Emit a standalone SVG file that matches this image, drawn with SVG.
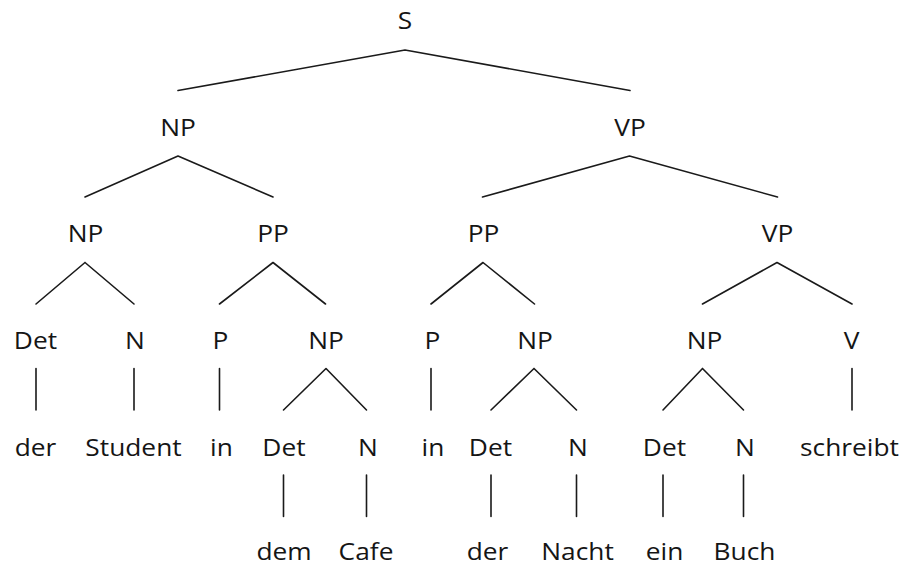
<svg xmlns="http://www.w3.org/2000/svg" width="907" height="565" viewBox="0 0 907 565">
<style>
text{font-family:"Open Sans","Noto Sans",sans-serif;font-size:23.5px;fill:#151515;text-anchor:middle}
.e{stroke:#1a1a1a;stroke-width:1.6;fill:none;stroke-linecap:round}
</style>
<rect width="907" height="565" fill="#fff"/>
<g id="connectors" class="e">
<path d="M405,50 L178,90.5 M405,50 L630,90.5"/>
<path d="M178,156 L85,197 M178,156 L273,197"/>
<path d="M629.5,156 L482.5,197 M629.5,156 L777.5,197"/>
<path d="M85,262.5 L36,304 M85,262.5 L134,304"/>
<path d="M273,262.5 L219.5,304 M273,262.5 L325.5,304"/>
<path d="M483,262.5 L431,304 M483,262.5 L534.5,304"/>
<path d="M777,262.5 L702.5,304 M777,262.5 L852,304"/>
<path d="M36,368.5 V410 M134,368.5 V410 M219.5,368.5 V410 M431,368.5 V410 M852,368.5 V410"/>
<path d="M326,368.5 L283.5,410 M326,368.5 L366.5,410"/>
<path d="M534,368.5 L491,410 M534,368.5 L576.5,410"/>
<path d="M702.5,368.5 L663,410 M702.5,368.5 L743.5,410"/>
<path d="M283.5,475 V516.5 M366.5,475 V516.5 M491,475 V516.5 M576.5,475 V516.5 M663,475 V516.5 M743.5,475 V516.5"/>
</g>
<g id="n-S"><text transform="translate(405,29) scale(1.12,1)">S</text></g>
<g id="n-NP1"><text transform="translate(178,136) scale(1.12,1)">NP</text></g>
<g id="n-VP1"><text transform="translate(630,136) scale(1.12,1)">VP</text></g>
<g id="n-NP2"><text transform="translate(85.5,242) scale(1.12,1)">NP</text></g>
<g id="n-PP2a"><text transform="translate(273,242) scale(1.12,1)">PP</text></g>
<g id="n-PP2b"><text transform="translate(483.5,242) scale(1.12,1)">PP</text></g>
<g id="n-VP2"><text transform="translate(777.5,242) scale(1.12,1)">VP</text></g>
<g id="n-Det3a"><text transform="translate(35.5,349) scale(1.12,1)">Det</text></g>
<g id="n-N3a"><text transform="translate(135,349) scale(1.12,1)">N</text></g>
<g id="n-P3a"><text transform="translate(220.5,349) scale(1.12,1)">P</text></g>
<g id="n-NP3a"><text transform="translate(326,349) scale(1.12,1)">NP</text></g>
<g id="n-P3b"><text transform="translate(432.5,349) scale(1.12,1)">P</text></g>
<g id="n-NP3b"><text transform="translate(535,349) scale(1.12,1)">NP</text></g>
<g id="n-NP3c"><text transform="translate(704.5,349) scale(1.12,1)">NP</text></g>
<g id="n-V3"><text transform="translate(851.5,349) scale(1.12,1)">V</text></g>
<g id="n-der1"><text transform="translate(35.5,456) scale(1.12,1)">der</text></g>
<g id="n-Student"><text transform="translate(133.5,456) scale(1.12,1)">Student</text></g>
<g id="n-in1"><text transform="translate(221.5,456) scale(1.12,1)">in</text></g>
<g id="n-Det4a"><text transform="translate(284,456) scale(1.12,1)">Det</text></g>
<g id="n-N4a"><text transform="translate(368,456) scale(1.12,1)">N</text></g>
<g id="n-in2"><text transform="translate(433,456) scale(1.12,1)">in</text></g>
<g id="n-Det4b"><text transform="translate(490.5,456) scale(1.12,1)">Det</text></g>
<g id="n-N4b"><text transform="translate(578,456) scale(1.12,1)">N</text></g>
<g id="n-Det4c"><text transform="translate(664.5,456) scale(1.12,1)">Det</text></g>
<g id="n-N4c"><text transform="translate(745,456) scale(1.12,1)">N</text></g>
<g id="n-schreibt"><text transform="translate(849.5,456) scale(1.12,1)">schreibt</text></g>
<g id="n-dem"><text transform="translate(284,560) scale(1.12,1)">dem</text></g>
<g id="n-Cafe"><text transform="translate(366,560) scale(1.12,1)">Cafe</text></g>
<g id="n-der2"><text transform="translate(487.5,560) scale(1.12,1)">der</text></g>
<g id="n-Nacht"><text transform="translate(577.5,560) scale(1.12,1)">Nacht</text></g>
<g id="n-ein"><text transform="translate(664.5,560) scale(1.12,1)">ein</text></g>
<g id="n-Buch"><text transform="translate(744.5,560) scale(1.12,1)">Buch</text></g>
</svg>
